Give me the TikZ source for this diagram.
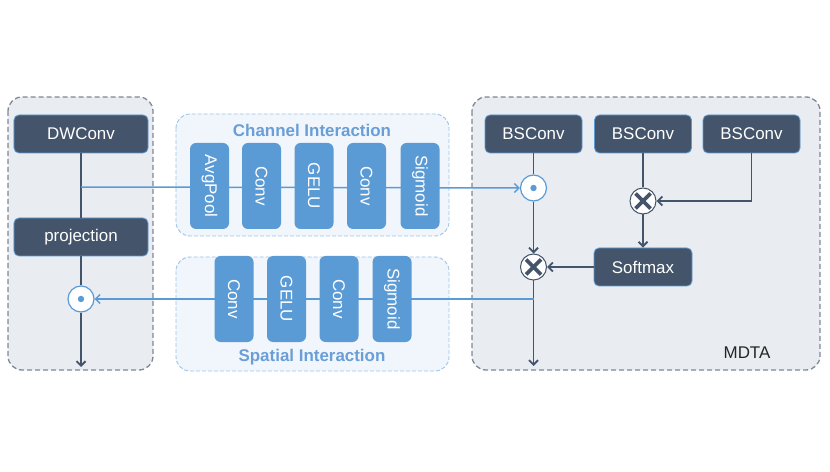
\documentclass[tikz,border=0pt]{standalone}
\usepackage{fontspec}
\setmainfont{Liberation Sans}
\usetikzlibrary{arrows.meta}
\definecolor{slate}{HTML}{44546A}
\definecolor{blockblue}{HTML}{5B9BD5}
\definecolor{titleblue}{HTML}{6A9ED6}
\definecolor{edgeblue}{HTML}{9DC3E6}
\definecolor{regiongray}{HTML}{E9ECF1}
\definecolor{dashgray}{HTML}{7F8896}
\definecolor{paleblue}{HTML}{F1F6FC}
\begin{document}
\begin{tikzpicture}[x=1bp,y=-1bp,
  txt/.style={font=\fontsize{17}{20}\selectfont},
  darkbox/.style={txt,draw=blockblue,line width=0.8bp,fill=slate,text=white,rounded corners=5bp,minimum width=97bp,minimum height=38bp,inner sep=0pt},
  block/.style={txt,fill=blockblue,text=white,rounded corners=6bp,minimum width=86bp,minimum height=39bp,inner sep=0pt,rotate=-90},
  region/.style={draw=dashgray,line width=1.3bp,dash pattern=on 5bp off 3bp,fill=regiongray,rounded corners=14bp},
  interact/.style={draw=edgeblue,line width=0.9bp,dash pattern=on 4bp off 2bp,fill=paleblue,rounded corners=14bp},
  title/.style={font=\fontsize{17}{20}\selectfont\bfseries,text=titleblue},
  dotop/.style={circle,draw=blockblue,line width=1.2bp,fill=white,minimum size=26bp,inner sep=0pt,
    path picture={\fill[blockblue] (path picture bounding box.center) circle (3.2bp);}},
  mulop/.style={circle,draw=slate,line width=1bp,fill=white,minimum size=26bp,inner sep=0pt,
    path picture={\draw[slate,line width=3.8bp] ([shift={(-7.5,-7.5)}]path picture bounding box.center) -- ([shift={(7.5,7.5)}]path picture bounding box.center);
                  \draw[slate,line width=3.8bp] ([shift={(-7.5,7.5)}]path picture bounding box.center) -- ([shift={(7.5,-7.5)}]path picture bounding box.center);}},
  flow/.style={slate,line width=1.9bp},
  side/.style={blockblue,line width=1.5bp},
  arr/.style={-{Straight Barb[length=4.5bp,width=9bp]}}]
\useasboundingbox (0,0) rectangle (830,472);
\path[region] (8,97) rectangle (153,370);
\path[region] (472,97) rectangle (820,370);
\path[interact] (176,114) rectangle (449,236);
\path[interact] (176,257) rectangle (449,371);
\node[title] (chtitle) at (312,130) {Channel Interaction};
\node[title] (sptitle) at (312,357) {Spatial Interaction};
\node[txt,text=black!85] (mdta) at (747,353) {MDTA};
\node[darkbox,minimum width=134bp] (dwconv) at (81,134) {DWConv};
\node[darkbox,minimum width=134bp] (proj) at (81,237) {projection};
\node[dotop] (dot1) at (81,299) {};
\coordinate (out1) at (81,367);
\node[darkbox] (bs1) at (533.5,134) {BSConv};
\node[darkbox] (bs2) at (643,134) {BSConv};
\node[darkbox] (bs3) at (751.5,134) {BSConv};
\node[darkbox,minimum width=98bp] (softmax) at (643,267) {Softmax};
\node[dotop] (dot2) at (533.5,188) {};
\node[mulop] (mul1) at (643,201) {};
\node[mulop] (mul2) at (533.5,267) {};
\coordinate (out2) at (533.5,366);
\coordinate (chsplit) at (81,187);
\coordinate (spjoin) at (533.5,299);
\draw[flow] (dwconv) -- (proj);
\draw[flow] (proj) -- (dot1);
\draw[flow,arr] (dot1) -- (out1);
\draw[flow] (bs1) -- (dot2);
\draw[flow,arr] (dot2) -- (mul2);
\draw[flow] (bs2) -- (mul1);
\draw[flow,arr] (bs3.south) |- (mul1.east);
\draw[flow,arr] (mul1) -- (softmax);
\draw[flow,arr] (softmax) -- (mul2);
\draw[flow,arr] (mul2) -- (out2);
\draw[side,arr] (chsplit) -- (dot2.west);
\draw[side,arr] (spjoin) -- (dot1.east);
\foreach \x/\t [count=\i] in {209.5/AvgPool,261.5/Conv,314/GELU,366.5/Conv,420/Sigmoid}
  \node[block] (ch\i) at (\x,186) {\t};
\foreach \x/\t [count=\i] in {234/Conv,286.5/GELU,339/Conv,392/Sigmoid}
  \node[block] (sp\i) at (\x,299) {\t};
\end{tikzpicture}
\end{document}
